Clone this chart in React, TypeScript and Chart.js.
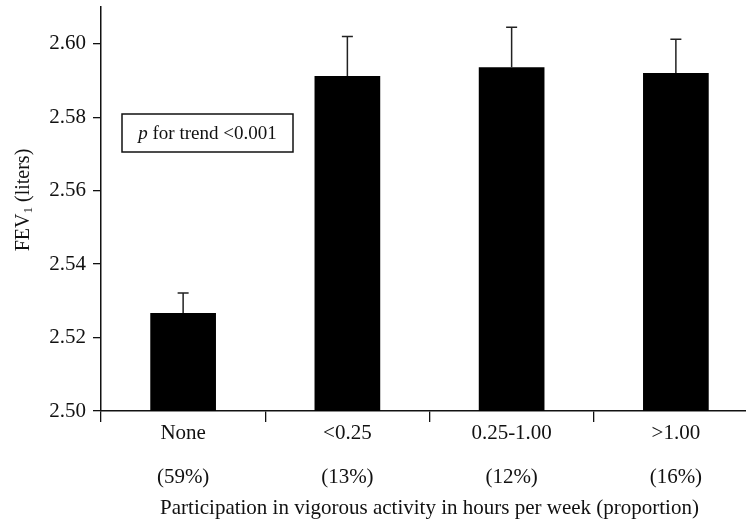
import React, { useEffect, useRef } from 'react';
import { Chart, registerables } from 'chart.js';

Chart.register(...registerables);

// ---- data ----
const categories = ['None', '<0.25', '0.25-1.00', '>1.00'];
const proportions = ['(59%)', '(13%)', '(12%)', '(16%)'];
const meanFev1 = [2.5267, 2.5912, 2.5936, 2.592];
const upperError = [2.5321, 2.602, 2.6045, 2.6012];
const yTicks = [2.5, 2.52, 2.54, 2.56, 2.58, 2.6];
const yMin = 2.5;
const yMax = 2.61;
const xTitle = 'Participation in vigorous activity in hours per week (proportion)';
const yTitleMain = 'FEV';
const yTitleSub = '1';
const yTitleRest = ' (liters)';
const trendItalic = 'p';
const trendRest = ' for trend <0.001';

const SERIF = "'Liberation Serif', 'Times New Roman', Times, serif";
const INK = '#111111';

export default function App() {
  const ref = useRef<HTMLCanvasElement | null>(null);

  useEffect(() => {
    const canvas = ref.current;
    if (!canvas) return;

    const errorBars = {
      id: 'errorBars',
      afterDatasetsDraw(chart: any) {
        const ctx = chart.ctx;
        const meta = chart.getDatasetMeta(0);
        const ys = chart.scales.y;
        ctx.save();
        ctx.strokeStyle = '#222222';
        ctx.lineWidth = 1.5;
        meta.data.forEach((el: any, i: number) => {
          const x = el.x;
          const yTop = el.y;
          const yErr = ys.getPixelForValue(upperError[i]);
          ctx.beginPath();
          ctx.moveTo(x, yTop);
          ctx.lineTo(x, yErr);
          ctx.moveTo(x - 5.5, yErr);
          ctx.lineTo(x + 5.5, yErr);
          ctx.stroke();
        });
        ctx.restore();
      },
    };

    const extras = {
      id: 'extras',
      afterDraw(chart: any) {
        const ctx = chart.ctx;
        ctx.save();
        ctx.fillStyle = INK;
        // y-axis title with subscript
        ctx.translate(29, 200);
        ctx.rotate(-Math.PI / 2);
        ctx.textBaseline = 'alphabetic';
        ctx.textAlign = 'left';
        const big = `20px ${SERIF}`;
        const small = `13px ${SERIF}`;
        ctx.font = big;
        const w1 = ctx.measureText(yTitleMain).width;
        const w3 = ctx.measureText(yTitleRest).width;
        ctx.font = small;
        const w2 = ctx.measureText(yTitleSub).width;
        let x0 = -(w1 + w2 + w3) / 2;
        ctx.font = big;
        ctx.fillText(yTitleMain, x0, 0);
        x0 += w1;
        ctx.font = small;
        ctx.fillText(yTitleSub, x0, 3);
        x0 += w2;
        ctx.font = big;
        ctx.fillText(yTitleRest, x0, 0);
        ctx.restore();

        // trend annotation box
        ctx.save();
        const bx = 122, by = 114, bw = 171, bh = 38;
        ctx.strokeStyle = INK;
        ctx.lineWidth = 1.5;
        ctx.strokeRect(bx, by, bw, bh);
        ctx.fillStyle = INK;
        ctx.textBaseline = 'middle';
        ctx.textAlign = 'left';
        const fi = `italic 19px ${SERIF}`;
        const fr = `19px ${SERIF}`;
        ctx.font = fi;
        const wi = ctx.measureText(trendItalic).width;
        ctx.font = fr;
        const wr = ctx.measureText(trendRest).width;
        let tx = bx + bw / 2 - (wi + wr) / 2;
        const ty = by + bh / 2 + 1;
        ctx.font = fi;
        ctx.fillText(trendItalic, tx, ty);
        tx += wi;
        ctx.font = fr;
        ctx.fillText(trendRest, tx, ty);
        ctx.restore();
      },
    };

    const chart = new Chart(canvas, {
      type: 'bar',
      data: {
        labels: categories.map((c, i) => [c, proportions[i]]),
        datasets: [
          {
            data: meanFev1,
            backgroundColor: '#000000',
            borderWidth: 0,
            categoryPercentage: 1,
            barPercentage: 0.4,
          },
        ],
      },
      options: {
        responsive: false,
        animation: false,
        devicePixelRatio: 1,
        layout: { padding: { top: 7, right: 12, bottom: 0, left: 0 } },
        plugins: {
          legend: { display: false },
          tooltip: { enabled: false },
        },
        scales: {
          x: {
            offset: true,
            grid: {
              offset: true,
              drawOnChartArea: false,
              drawTicks: true,
              tickLength: 11,
              color: INK,
              lineWidth: 1.3,
            },
            border: { display: true, color: INK, width: 1.5 },
            ticks: {
              autoSkip: false,
              maxRotation: 0,
              minRotation: 0,
              padding: -11,
              color: INK,
              font: { family: SERIF, size: 21, lineHeight: 2.1 },
            },
            title: {
              display: true,
              text: xTitle,
              color: INK,
              font: { family: SERIF, size: 21, lineHeight: 1.2 },
              padding: { top: 0, bottom: 1 },
            },
            afterFit(scale: any) {
              scale.height = 111;
              scale.paddingLeft = 0;
              scale.paddingRight = 0;
            },
          },
          y: {
            min: yMin,
            max: yMax,
            grid: {
              drawOnChartArea: false,
              drawTicks: true,
              tickLength: 8,
              color: INK,
              lineWidth: 1.3,
            },
            border: { display: true, color: INK, width: 1.5 },
            ticks: {
              padding: 7,
              color: INK,
              font: { family: SERIF, size: 21 },
              callback: (v: any) => Number(v).toFixed(2),
            },
            afterBuildTicks(scale: any) {
              scale.ticks = yTicks.map((v) => ({ value: v }));
            },
            afterFit(scale: any) {
              scale.width = 101;
              scale.paddingTop = 0;
              scale.paddingBottom = 0;
            },
          },
        },
      },
      plugins: [errorBars, extras],
    } as any);

    return () => chart.destroy();
  }, []);

  return (
    <div
      style={{
        position: 'fixed',
        left: 0,
        top: 0,
        width: 746,
        height: 522,
        overflow: 'hidden',
        background: '#ffffff',
      }}
    >
      <canvas ref={ref} width={770} height={522} style={{ display: 'block' }} />
    </div>
  );
}
